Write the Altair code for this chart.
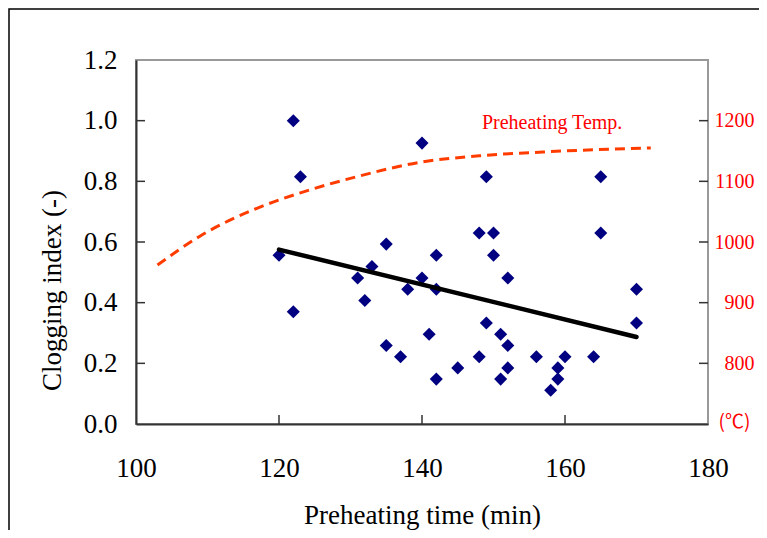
import altair as alt
import pandas as pd

# Scatter data: preheating time (min) vs clogging index (-)
time_min = [122, 140, 123, 149, 165, 148, 150, 165, 135, 120, 142, 150, 133,
            131, 140, 152, 138, 142, 170, 132, 122, 149, 170, 141, 151, 135,
            152, 137, 148, 156, 160, 164, 145, 152, 159, 142, 151, 159, 158]
clog_index = [1.000, 0.926, 0.815, 0.815, 0.815, 0.630, 0.630, 0.630, 0.593,
              0.556, 0.556, 0.556, 0.519, 0.481, 0.481, 0.481, 0.444, 0.444,
              0.444, 0.407, 0.370, 0.333, 0.333, 0.296, 0.296, 0.259, 0.259,
              0.222, 0.222, 0.222, 0.222, 0.222, 0.185, 0.185, 0.185, 0.148,
              0.148, 0.148, 0.111]

# Trend line end points
trend_time = [120, 170]
trend_clog = [0.575, 0.287]

# Preheating temperature curve (right axis, degC)
temp_time = [103, 109, 117, 123, 131, 140, 148, 158, 172]
temp_degc = [962, 1010, 1056, 1081, 1108, 1132, 1142, 1149, 1155]

# Labels / ticks
x_ticks = [100, 120, 140, 160, 180]
y_ticks = [0.0, 0.2, 0.4, 0.6, 0.8, 1.0, 1.2]
r_ticks = [800, 900, 1000, 1100, 1200]
label_time = [158.2]
label_temp = [1196]
label_text = ["Preheating Temp."]

W, H = 572, 364
SERIF = "Liberation Serif"

pts = pd.DataFrame({"time": time_min, "clog": clog_index})
trend = pd.DataFrame({"time": trend_time, "clog": trend_clog})
temp = pd.DataFrame({"time": temp_time, "temp": temp_degc})
lab = pd.DataFrame({"time": label_time, "temp": label_temp, "txt": label_text})
xt = pd.DataFrame({"time": x_ticks[1:-1]})
yt = pd.DataFrame({"v": y_ticks[1:-1]})
rt = pd.DataFrame({"v": r_ticks})
one = pd.DataFrame({"a": [0]})

x_scale = alt.Scale(domain=[100, 180], nice=False, zero=False)
yl_scale = alt.Scale(domain=[0, 1.2], nice=False)
yr_scale = alt.Scale(domain=[700, 1300], nice=False, zero=False)

x_axis = alt.Axis(values=x_ticks, format="d", ticks=False, tickSize=0,
                  labelPadding=31, labelFont=SERIF, labelFontSize=27,
                  labelColor="black", labelFlush=False, labelOverlap=False,
                  domainColor="#333333", domainWidth=2, grid=False,
                  title="Preheating time (min)", titleFont=SERIF,
                  titleFontSize=27, titleFontWeight="normal", titleColor="black",
                  titleY=78, titleBaseline="top")

yl_axis = alt.Axis(orient="left", values=y_ticks, format=".1f", ticks=False,
                   tickSize=0, labelPadding=19, labelFont=SERIF,
                   labelFontSize=27, labelColor="black", labelFlush=False,
                   labelOverlap=False, domainColor="#333333", domainWidth=2,
                   grid=False, title="Clogging index (-)", titleFont=SERIF,
                   titleFontSize=27, titleFontWeight="normal",
                   titleColor="black", titleAngle=270, titleX=-84, titleY=230,
                   titleAlign="center", titleBaseline="middle")

yr_axis = alt.Axis(orient="right", values=r_ticks, format="d", ticks=False,
                   tickSize=0, labelPadding=46, labelAlign="right",
                   labelFont=SERIF, labelFontSize=20, labelColor="#FF0000",
                   labelFlush=False, labelOverlap=False, domain=False,
                   grid=False, title="(℃)", titleFont="Noto Sans CJK JP",
                   titleFontSize=19, titleFontWeight="normal",
                   titleColor="#FF0000", titleAngle=0, titleX=26, titleY=361,
                   titleAlign="center", titleBaseline="middle")

frame = alt.Chart(one).mark_rect(filled=False, stroke="black", strokeWidth=1.5,
                                 clip=False).encode(
    x=alt.value(-127), x2=alt.value(W + 300),
    y=alt.value(-51), y2=alt.value(H + 300))

temp_line = alt.Chart(temp).mark_line(color="#FF3C00", strokeWidth=3,
                                      strokeDash=[10, 6],
                                      interpolate="monotone").encode(
    x=alt.X("time:Q", scale=x_scale, axis=x_axis),
    y=alt.Y("temp:Q", scale=yr_scale, axis=yr_axis))

trend_line = alt.Chart(trend).mark_line(color="black", strokeWidth=4.5,
                                        strokeCap="round").encode(
    x=alt.X("time:Q", scale=x_scale, axis=x_axis),
    y=alt.Y("clog:Q", scale=yl_scale, axis=None))

scatter = alt.Chart(pts).mark_point(shape="diamond", filled=True,
                                    color="#000080", size=170,
                                    opacity=1).encode(
    x=alt.X("time:Q", scale=x_scale, axis=x_axis),
    y=alt.Y("clog:Q", scale=yl_scale, axis=yl_axis))

xticks = alt.Chart(xt).mark_rule(color="#333333", strokeWidth=1.5).encode(
    x=alt.X("time:Q", scale=x_scale, axis=x_axis),
    y=alt.value(H), y2=alt.value(H - 9))

lticks = alt.Chart(yt).mark_rule(color="#333333", strokeWidth=1.5).encode(
    y=alt.Y("v:Q", scale=yl_scale, axis=None),
    x=alt.value(0), x2=alt.value(9))

rticks = alt.Chart(rt).mark_rule(color="#333333", strokeWidth=1.5).encode(
    y=alt.Y("v:Q", scale=yr_scale, axis=None),
    x=alt.value(W - 9), x2=alt.value(W))

label = alt.Chart(lab).mark_text(font=SERIF, fontSize=20, color="#FF0000",
                                 align="center", baseline="middle").encode(
    x=alt.X("time:Q", scale=x_scale, axis=x_axis),
    y=alt.Y("temp:Q", scale=yr_scale, axis=None),
    text="txt:N")

chart = alt.layer(
    frame, scatter, temp_line, trend_line, xticks, lticks, rticks, label
).resolve_scale(y="independent").properties(
    width=W, height=H,
    padding={"left": 128, "top": 52, "right": 51, "bottom": 106},
    autosize=alt.AutoSizeParams(type="none"),
    background="white",
).configure_view(stroke="#999999", strokeWidth=2)

chart.save("out.html", embed_options={"renderer": "svg", "actions": False})
